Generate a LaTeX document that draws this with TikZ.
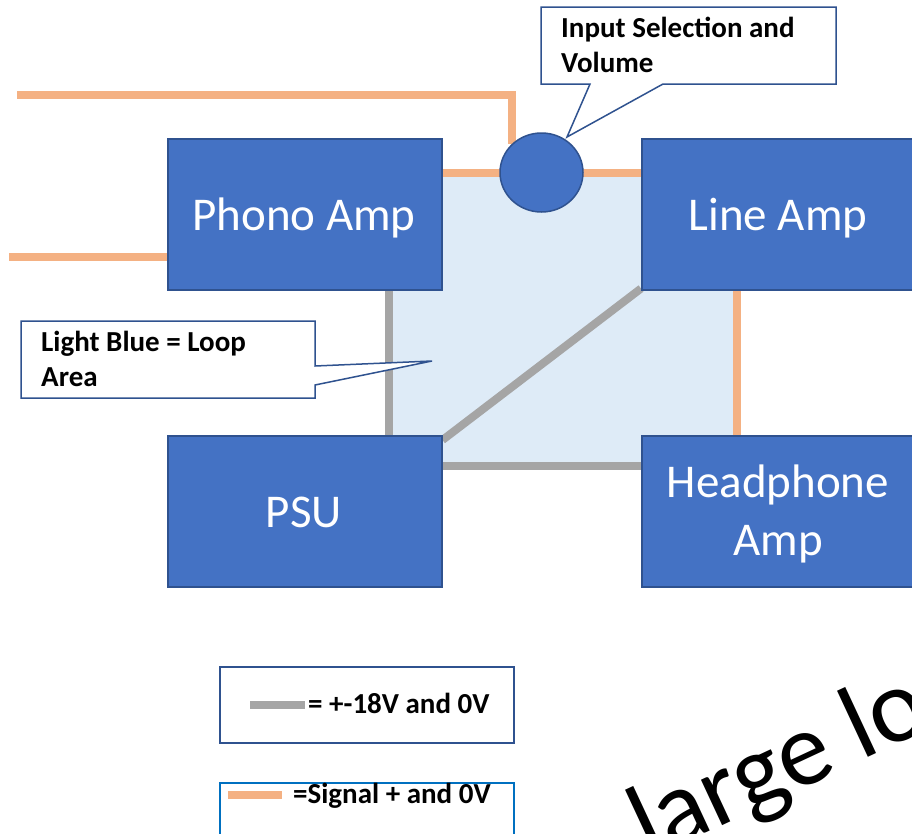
\documentclass[tikz,border=0pt]{standalone}
\usepackage{fontspec}
\setmainfont{Carlito}
\usetikzlibrary{calc,shapes.geometric,backgrounds}
\definecolor{boxblue}{HTML}{4472C4}
\definecolor{boxedge}{HTML}{2F528F}
\definecolor{loopblue}{HTML}{DEEBF7}
\definecolor{loopedge}{HTML}{A9C0E4}
\definecolor{sig}{HTML}{F4B183}
\definecolor{pwr}{HTML}{A5A5A5}
\definecolor{legedge}{HTML}{0070C0}

\begin{document}
\begin{tikzpicture}[x=1pt,y=-1pt,
  block/.style={draw=boxedge, fill=boxblue, line width=1.5pt, minimum width=274pt,
    minimum height=151pt, inner sep=0pt, anchor=north west},
  blocklabel/.style={text=white, font=\fontsize{47}{58}\selectfont, align=center, inner sep=0pt},
  sigwire/.style={draw=sig, line width=8pt},
  pwrwire/.style={draw=pwr, line width=8pt},
  callout/.style={draw=boxedge, fill=white, line width=1.5pt, line join=miter},
  note/.style={font=\bfseries\fontsize{29}{35}\selectfont, align=left, inner sep=0pt},
  legendbox/.style={fill=white, line width=1.5pt, minimum width=294pt, inner sep=0pt, anchor=north west},
]
\useasboundingbox (0,0) rectangle (912,833);
\clip (0,0) rectangle (912,833);

% functional blocks
\node[block] (phono) at (167,138) {};
\node[block] (line)  at (641,138) {};
\node[block] (psu)   at (167,435) {};
\node[block] (hp)    at (641,435) {};

% volume control
\node[ellipse, draw=boxedge, fill=boxblue, line width=1.5pt, minimum width=83pt,
  minimum height=79pt, inner sep=0pt] (vol) at (541.5,172.5) {};

\begin{scope}[on background layer]
  % enclosed loop area
  \fill[loopblue] (389,175) rectangle (737,466);
  \draw[loopedge, line width=1pt] (389,175) rectangle (737,466);
  % signal wiring
  \coordinate (in1) at (17,95);
  \coordinate (in2) at (9,257);
  \draw[sigwire] (in1) -| (vol.north west);
  \draw[sigwire] (in2) -- (phono.west |- in2);
  \draw[sigwire] (phono.east |- vol.center) -- (vol.center) -- (line.west |- vol.center);
  \draw[sigwire] ($(line.south west)+(96,0)$) -- ($(hp.north west)+(96,0)$);
  % supply wiring
  \draw[pwrwire] ($(phono.south west)+(222,0)$) -- ($(psu.north west)+(222,0)$);
  \draw[pwrwire] ($(psu.north east)+(0,5)$) -- ($(line.south west)+(0,-2)$);
  \draw[pwrwire] ($(psu.north east)+(0,31)$) -- ($(hp.north west)+(0,31)$);
\end{scope}

% block labels (base = baseline of the last line)
\node[blocklabel, anchor=base] (phonolbl) at (304,230) {Phono Amp};
\node[blocklabel, anchor=base] (linelbl)  at (778,230) {Line Amp};
\node[blocklabel, anchor=base] (psulbl)   at (304,527) {PSU};
\node[blocklabel, anchor=base] (hplbl)    at (778,555) {Headphone\\Amp};

% callouts
\coordinate (tipvol) at (567,137);
\draw[callout] (541,7) -- (836,7) -- (836,84) -- (663,84) -- (tipvol) -- (590,84) -- (541,84) -- cycle;
\node[note, anchor=base west] (notevol) at (561,72) {Input Selection and\\Volume};

\coordinate (tiploop) at (432,361);
\draw[callout] (21,321) -- (315,321) -- (315,366) -- (tiploop) -- (315,385) -- (315,398) -- (21,398) -- cycle;
\node[note, anchor=base west] (noteloop) at (41,386) {Light Blue = Loop\\Area};

% legend
\node[legendbox, draw=boxedge, minimum height=76pt] (leg1) at (219,666) {};
\draw[pwrwire] ($(leg1.west)+(31,0)$) -- ($(leg1.west)+(86,0)$);
\node[note, anchor=base west] (leg1txt) at (308,713) {= +-18V and 0V};

\node[legendbox, draw=legedge, minimum height=80pt] (leg2) at (219,782) {};
\draw[sigwire] ($(leg2.north west)+(9,13)$) -- ($(leg2.north west)+(63,13)$);
\node[note, anchor=base west] (leg2txt) at (293,803) {=Signal + and 0V};

% handwritten-style remark
\node[font=\fontsize{105}{126}\selectfont, rotate=25, anchor=base west, inner sep=0pt] (remark) at (649,860) {large lo};
\end{tikzpicture}
\end{document}
